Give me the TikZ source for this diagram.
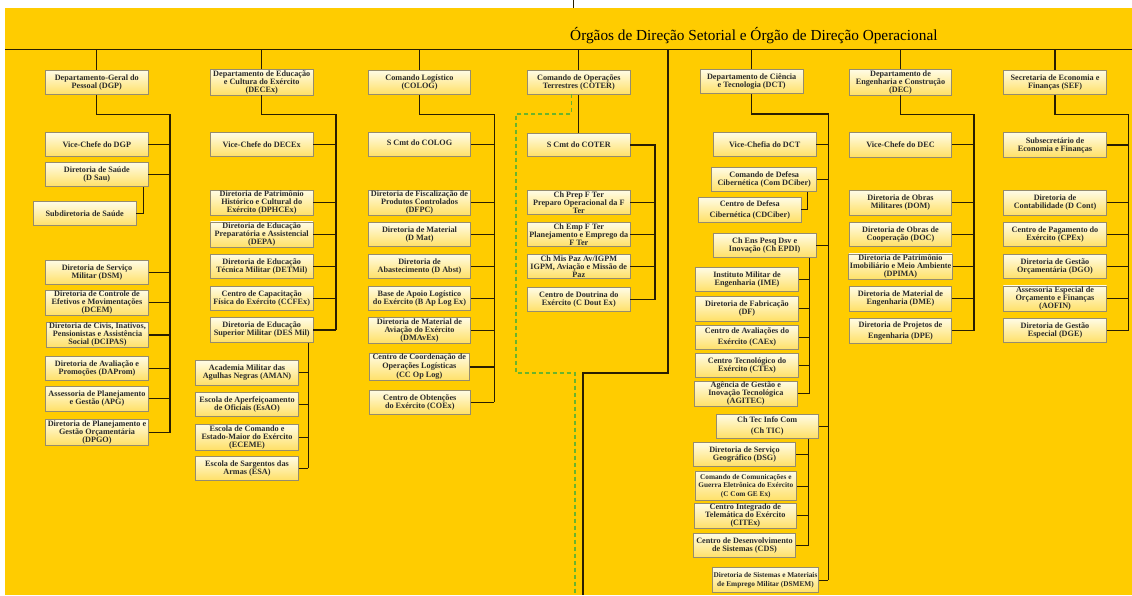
\documentclass[tikz,border=0pt]{standalone}
\usepackage{fontspec}
\setmainfont{Liberation Serif}
\definecolor{bg}{HTML}{FFCC00}
\definecolor{boxtop}{HTML}{FFFCE6}
\definecolor{boxbot}{HTML}{FFE066}
\definecolor{boxline}{HTML}{968C6E}
\definecolor{conncol}{HTML}{2A1E00}
\definecolor{greenc}{HTML}{6AB42D}
\definecolor{txt}{HTML}{2B2B2B}
\begin{document}
\begin{tikzpicture}[x=1pt,y=-1pt,
  box/.style={draw=boxline, line width=0.8pt, top color=boxtop, bottom color=boxbot,
    minimum width=102.4pt, minimum height=24.3pt, inner sep=1pt, align=center,
    font=\fontsize{8.2}{8}\selectfont\bfseries, text=txt},
  smallbox/.style={box, font=\fontsize{7.3}{7.4}\selectfont\bfseries},
  conn/.style={draw=conncol, line width=1.2pt},
  greenline/.style={draw=greenc, line width=1.2pt, dash pattern=on 4pt off 3pt}]
\useasboundingbox (0,0) rectangle (1132,595);
\fill[white] (0,0) rectangle (1132,595);
\fill[bg] (5,8) rectangle (1132,595);

% title
\node[font=\fontsize{15.3}{16}\selectfont, anchor=base west, inner sep=0pt] (title) at (570,40)
  {Órgãos de Direção Setorial e Órgão de Direção Operacional};

% ---------- Column 1 DGP
\node[box] (dgp) at (96.8,82.2) {Departamento-Geral do\\Pessoal (DGP)};
\node[box] (vcdgp) at (96.8,144.7) {Vice-Chefe do DGP};
\node[box] (dsau) at (96.8,174.7) {Diretoria de Saúde\\(D Sau)};
\node[box] (subsau) at (84.7,213.7) {Subdiretoria de Saúde};
\node[box] (dsm) at (97,272.2) {Diretoria de Serviço\\Militar (DSM)};
\node[box] (dcem) at (97,302.8) {Diretoria de Controle de\\Efetivos e Movimentações\\(DCEM)};
\node[box] (dcipas) at (97.5,335) {Diretoria de Civis, Inativos,\\Pensionistas e Assistência\\Social (DCIPAS)};
\node[box] (daprom) at (97,368.3) {Diretoria de Avaliação e\\Promoções (DAProm)};
\node[box] (apg) at (97,398.8) {Assessoria de Planejamento\\e Gestão (APG)};
\node[box, minimum height=25pt] (dpgo) at (97,432.5) {Diretoria de Planejamento e\\Gestão Orçamentária\\(DPGO)};

% ---------- Column 2 DECEx
\node[box] (decex) at (261.7,82.2) {Departamento de Educação\\e Cultura do Exército\\(DECEx)};
\node[box] (vcdecex) at (261.7,144.7) {Vice-Chefe do DECEx};
\node[box] (dphcex) at (261.7,202.8) {Diretoria de Patrimônio\\Histórico e Cultural do\\Exército (DPHCEx)};
\node[box] (depa) at (261.7,234.7) {Diretoria de Educação\\Preparatória e Assistencial\\(DEPA)};
\node[box] (detmil) at (261.7,266.2) {Diretoria de Educação\\Técnica Militar (DETMil)};
\node[box] (ccfex) at (261.7,298.3) {Centro de Capacitação\\Física do Exército (CCFEx)};
\node[box] (desmil) at (261.7,330) {Diretoria de Educação\\Superior Militar (DES Mil)};
\node[box] (aman) at (247,372.8) {Academia Militar das\\Agulhas Negras (AMAN)};
\node[box] (esao) at (247,404.5) {Escola de Aperfeiçoamento\\de Oficiais (EsAO)};
\node[box] (eceme) at (247,437.2) {Escola de Comando e\\Estado-Maior do Exército\\(ECEME)};
\node[box] (esa) at (247,468.3) {Escola de Sargentos das\\Armas (ESA)};

% ---------- Column 3 COLOG
\node[box] (colog) at (419.5,82.2) {Comando Logístico\\(COLOG)};
\node[box] (scmtcolog) at (419.5,144.7) {\raisebox{4pt}{S Cmt do COLOG}};
\node[box] (dfpc) at (419.5,202.8) {Diretoria de Fiscalização de\\Produtos Controlados\\(DFPC)};
\node[box] (dmat) at (419.5,234.7) {Diretoria de Material\\(D Mat)};
\node[box] (dabst) at (419.5,266.2) {Diretoria de\\Abastecimento (D Abst)};
\node[box] (bap) at (419.5,298.3) {Base de Apoio Logístico\\do Exército (B Ap Log Ex)};
\node[box] (dmavex) at (419.5,330.3) {Diretoria de Material de\\Aviação do Exército\\(DMAvEx)};
\node[box, minimum width=100pt, minimum height=26pt] (ccoplog) at (419.3,367) {Centro de Coordenação de\\[1pt]Operações Logísticas\\[1pt](CC Op Log)};
\node[box, minimum width=101pt] (coex) at (419.8,402.2) {Centro de Obtenções\\do Exército (COEx)};

% ---------- Column 4 COTER
\node[box] (coter) at (578.8,82.2) {Comando de Operações\\Terrestres (COTER)};
\node[box, minimum height=23.4pt] (scmtcoter) at (578.8,145) {S Cmt do COTER};
\node[box] (chprep) at (578.8,202.5) {Ch Prep F Ter\\Preparo Operacional da F\\Ter};
\node[box] (chemp) at (578.8,234.7) {Ch Emp F Ter\\Planejamento e Emprego da\\F Ter};
\node[box] (chmis) at (578.8,266.5) {Ch Mis Paz Av/IGPM\\IGPM, Aviação e Missão de\\Paz};
\node[box] (cdout) at (578.8,299.5) {Centro de Doutrina do\\Exército (C Dout Ex)};

% ---------- Column 5 DCT
\node[box] (dct) at (751.7,81.7) {Departamento de Ciência\\e Tecnologia (DCT)};
\node[box] (vcdct) at (764.7,144.5) {Vice-Chefia do DCT};
\node[box, minimum width=105pt] (comdciber) at (764.2,179.5) {Comando de Defesa\\Cibernética (Com DCiber)};
\node[box, minimum height=25pt] (cdciber) at (749.8,209.8) {Centro de Defesa\\[3pt]Cibernética (CDCiber)};
\node[box] (chepdi) at (764.7,245.3) {Ch Ens Pesq Dsv e\\Inovação (Ch EPDI)};
\node[box] (ime) at (747,279.5) {Instituto Militar de\\Engenharia (IME)};
\node[box] (df) at (747,308.8) {Diretoria de Fabricação\\(DF)};
\node[box] (caex) at (747,337.5) {Centro de Avaliações do\\[3pt]Exército (CAEx)};
\node[box] (ctex) at (747,365.5) {Centro Tecnológico do\\Exército (CTEx)};
\node[box, minimum width=103pt] (agitec) at (745.8,393.8) {Agência de Gestão e\\Inovação Tecnológica\\(AGITEC)};
\node[box] (chtic) at (767.2,426.2) {Ch Tec Info Com\\[3pt](Ch TIC)};
\node[box] (dsg) at (744.5,454.5) {Diretoria de Serviço\\Geográfico (DSG)};
\node[smallbox, minimum width=101.7pt, minimum height=29pt] (ccomgeex) at (745.8,486.2) {Comando de Comunicações e\\[1pt]Guerra Eletrônica do Exército\\[1pt](C Com GE Ex)};
\node[box, minimum height=25pt] (citex) at (745.3,515.8) {Centro Integrado de\\Telemática do Exército\\(CITEx)};
\node[box] (cds) at (744.5,545.5) {Centro de Desenvolvimento\\de Sistemas (CDS)};
\node[smallbox, minimum height=25pt] (dsmem) at (765.5,580.2) {Diretoria de Sistemas e Materiais\\[2pt]de Emprego Militar (DSMEM)};

% ---------- Column 6 DEC
\node[box] (dec) at (900.5,82.2) {Departamento de\\Engenharia e Construção\\(DEC)};
\node[box] (vcdec) at (900.5,144.8) {Vice-Chefe do DEC};
\node[box] (dom) at (900.5,202.8) {Diretoria de Obras\\Militares (DOM)};
\node[box] (doc) at (900.5,234.7) {Diretoria de Obras de\\Cooperação (DOC)};
\node[box] (dpima) at (900.5,266.7) {Diretoria de Patrimônio\\Imobiliário e Meio Ambiente\\(DPIMA)};
\node[box] (dme) at (900.5,298.8) {Diretoria de Material de\\Engenharia (DME)};
\node[box, minimum height=25pt] (dpe) at (900.5,330.8) {Diretoria de Projetos de\\[3pt]Engenharia (DPE)};

% ---------- Column 7 SEF
\node[box, minimum width=103.4pt] (sef) at (1055,82.2) {Secretaria de Economia e\\Finanças (SEF)};
\node[box, minimum width=103.4pt] (subsec) at (1055,145) {Subsecretário de\\Economia e Finanças};
\node[box, minimum width=103.4pt] (dcont) at (1055,202.8) {Diretoria de\\Contabilidade (D Cont)};
\node[box, minimum width=103.4pt] (cpex) at (1055,234.7) {Centro de Pagamento do\\Exército (CPEx)};
\node[box, minimum width=103.4pt] (dgo) at (1055,266.7) {Diretoria de Gestão\\Orçamentária (DGO)};
\node[box, minimum width=103.4pt] (aofin) at (1055,298.7) {Assessoria Especial de\\Orçamento e Finanças\\(AOFIN)};
\node[box, minimum width=103.4pt] (dge) at (1055,330.5) {Diretoria de Gestão\\Especial (DGE)};

% ---------- Top line and drops
\coordinate (tl) at (5,49.3);
\coordinate (tr) at (1132,49.3);
\draw[conn] (tl) -- (tr);
\foreach \n in {dgp,decex,colog,coter,dct,dec,sef}
  \draw[conn] (\n.north) -- (\n.north |- tl);
\coordinate (tick0) at (573,0);
\coordinate (tick1) at (573,8);
\draw[conn, line width=0.8pt] (tick0) -- (tick1);

% central black line
\coordinate (k0) at (668,49.3);
\coordinate (k1) at (668,373);
\coordinate (k2) at (583,373);
\coordinate (k3) at (583,595);
\draw[conn] (k0) -- (k1) -- (k2) -- (k3);

% green dashed
\coordinate (g0) at (571.7,94.3);
\coordinate (g1) at (516,114);
\coordinate (g2) at (516,373);
\coordinate (g3) at (575,373);
\coordinate (g4) at (575,595);
\draw[greenline] (g0) |- (g1) -- (g2) -- (g3) -- (g4);

% Column 1 buses
\coordinate (b1) at (170,114.3);
\draw[conn] (dgp.south) |- (b1) -- (b1 |- dpgo.east);
\foreach \n in {vcdgp,dsau,dsm,dcem,dcipas,daprom,apg,dpgo}
  \draw[conn] (\n.east) -- (\n.east -| b1);
\draw[conn] ([xshift=-5pt]dsau.south east) |- (subsau.east);

% Column 2
\coordinate (b2) at (336,114.3);
\draw[conn] (decex.south) |- (b2) -- (b2 |- desmil.east);
\foreach \n in {vcdecex,dphcex,depa,detmil,ccfex,desmil}
  \draw[conn] (\n.east) -- (\n.east -| b2);
\coordinate (sb2) at ([xshift=-5pt]desmil.south east);
\draw[conn] (sb2) -- (sb2 |- esa.east);
\foreach \n in {aman,esao,eceme,esa}
  \draw[conn] (\n.east) -- (\n.east -| sb2);

% Column 3
\coordinate (b3) at (494.3,114.3);
\draw[conn] (colog.south) |- (b3) -- (b3 |- coex.east);
\foreach \n in {scmtcolog,dfpc,dmat,dabst,bap,dmavex,ccoplog,coex}
  \draw[conn] (\n.east) -- (\n.east -| b3);

% Column 4
\coordinate (b4) at (655,145);
\draw[conn] (coter.south) -- (scmtcoter.north);
\draw[conn] (scmtcoter.east) -- (scmtcoter.east -| b4) -- (b4 |- cdout.east);
\foreach \n in {chprep,chemp,chmis,cdout}
  \draw[conn] (\n.east) -- (\n.east -| b4);

% Column 5
\coordinate (b5) at (828.3,114);
\draw[conn] (dct.south) |- (b5) -- (b5 |- dsmem.east);
\foreach \n in {vcdct,comdciber,chepdi,chtic,dsmem}
  \draw[conn] (\n.east) -- (\n.east -| b5);
\draw[conn] ([xshift=-10pt]comdciber.south east) |- (cdciber.east);
\coordinate (sb5a) at ([xshift=-6.7pt]chepdi.south east);
\draw[conn] (sb5a) -- (sb5a |- agitec.east);
\foreach \n in {ime,df,caex,ctex,agitec}
  \draw[conn] (\n.east) -- (\n.east -| sb5a);
\coordinate (sb5b) at ([xshift=-10.6pt]chtic.south east);
\draw[conn] (sb5b) -- (sb5b |- cds.east);
\foreach \n in {dsg,ccomgeex,citex,cds}
  \draw[conn] (\n.east) -- (\n.east -| sb5b);

% Column 6
\coordinate (b6) at (974,114.3);
\draw[conn] (dec.south) |- (b6) -- (b6 |- dpe.east);
\foreach \n in {vcdec,dom,doc,dpima,dme,dpe}
  \draw[conn] (\n.east) -- (\n.east -| b6);

% Column 7
\coordinate (b7) at (1128.3,114.3);
\draw[conn] (sef.south) |- (b7) -- (b7 |- dge.east);
\foreach \n in {subsec,dcont,cpex,dgo,aofin,dge}
  \draw[conn] (\n.east) -- (\n.east -| b7);
\end{tikzpicture}
\end{document}
